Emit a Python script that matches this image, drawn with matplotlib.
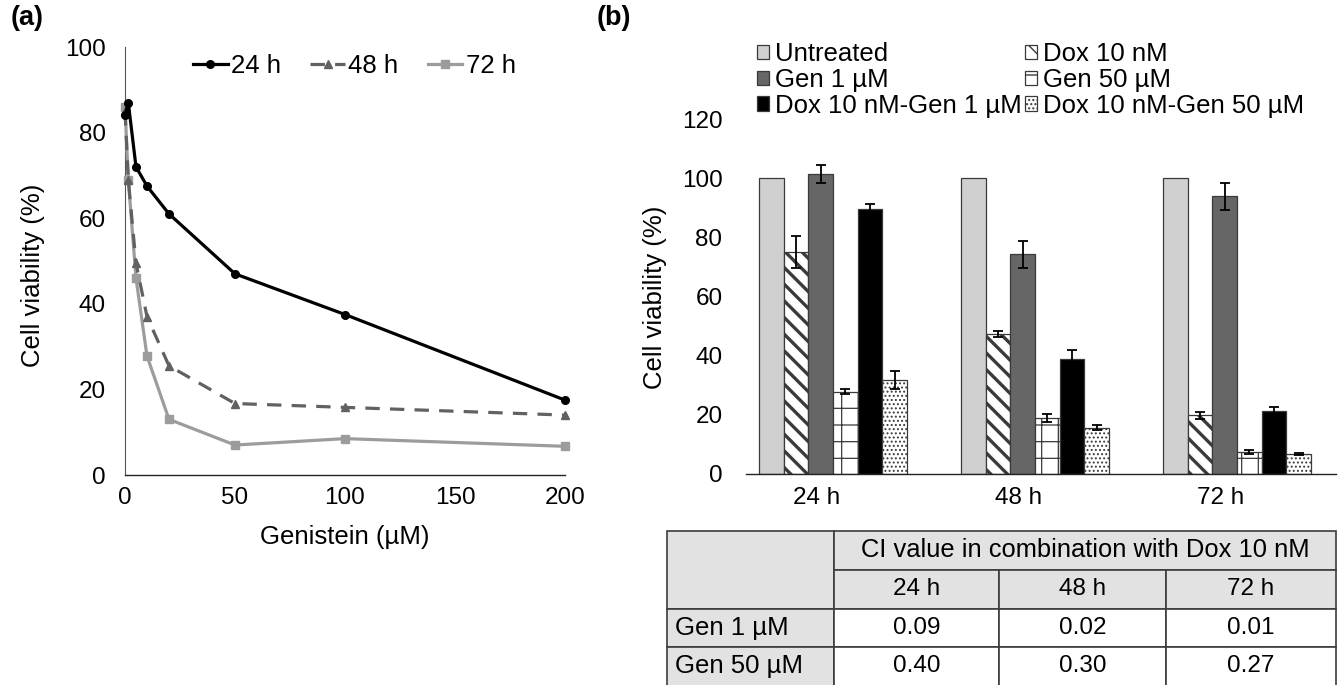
import matplotlib
matplotlib.use('Agg')
import matplotlib.pyplot as plt
import matplotlib.transforms as mtrans
from matplotlib.patches import Rectangle
import numpy as np

plt.rcParams['font.family'] = ['Liberation Sans', 'DejaVu Sans']
plt.rcParams['hatch.color'] = '#000000'
FS = 17.5      # numbers / tick labels
FT = 18.5      # word labels

# ---------------- data: panel (a) ----------------
genistein_conc = [0, 1.5, 5, 10, 20, 50, 100, 200]
viab_24h = [84.0, 87.0, 72.0, 67.5, 61.0, 47.0, 37.5, 17.5]
viab_48h = [85.0, 69.0, 49.5, 37.0, 25.5, 16.7, 15.8, 14.0]
viab_72h = [86.0, 69.0, 46.0, 27.8, 13.0, 7.0, 8.5, 6.7]
line_labels = ['24 h', '48 h', '72 h']

# ---------------- data: panel (b) ----------------
time_groups = ['24 h', '48 h', '72 h']
treatments = ['Untreated', 'Dox 10 nM', 'Gen 1 µM', 'Gen 50 µM',
              'Dox 10 nM-Gen 1 µM', 'Dox 10 nM-Gen 50 µM']
untreated = [100.0, 100.0, 100.0]
dox10 = [75.1, 47.2, 19.8]
gen1 = [101.5, 74.2, 93.9]
gen50 = [27.8, 19.0, 7.5]
dox_gen1 = [89.5, 39.0, 21.2]
dox_gen50 = [31.8, 15.6, 6.7]
err_untreated = [0.0, 0.0, 0.0]
err_dox10 = [5.5, 1.0, 1.2]
err_gen1 = [3.0, 4.4, 4.5]
err_gen50 = [0.8, 1.3, 0.6]
err_dox_gen1 = [1.7, 3.0, 1.3]
err_dox_gen50 = [3.0, 0.8, 0.4]

# ---------------- data: CI table ----------------
ci_title = 'CI value in combination with Dox 10 nM'
ci_cols = ['24 h', '48 h', '72 h']
ci_rows = ['Gen 1 µM', 'Gen 50 µM']
ci_gen1 = ['0.09', '0.02', '0.01']
ci_gen50 = ['0.40', '0.30', '0.27']

# ---------------- figure ----------------
W, H = 1344, 685
fig = plt.figure(figsize=(W / 100, H / 100), dpi=100)


def fx(px):
    return px / W


def fy(py):
    return 1 - py / H


def box(l, t, r, b):
    return [fx(l), fy(b), fx(r) - fx(l), fy(t) - fy(b)]


# ================= panel (a) =================
axA = fig.add_axes(box(125, 47, 565, 475))
l72, = axA.plot(genistein_conc, viab_72h, color='#9c9c9c', lw=2.3, marker='s',
                ms=5.5, clip_on=False, zorder=3)
l48, = axA.plot(genistein_conc, viab_48h, color='#616161', lw=2.3,
                ls=(0, (4.5, 3.2)), marker='^', ms=5.5, clip_on=False, zorder=4)
l24, = axA.plot(genistein_conc, viab_24h, color='black', lw=2.3, marker='o',
                ms=5.5, clip_on=False, zorder=5)
axA.set_xlim(0, 200)
axA.set_ylim(0, 100)
axA.set_xticks([0, 50, 100, 150, 200])
axA.set_yticks([0, 20, 40, 60, 80, 100])
for s in ['top', 'right']:
    axA.spines[s].set_visible(False)
axA.spines['left'].set_color('#555555')
axA.spines['left'].set_linewidth(0.8)
axA.spines['bottom'].set_color('#222222')
axA.spines['bottom'].set_linewidth(1.0)
axA.tick_params(axis='y', length=0, labelsize=FS, pad=14)
axA.tick_params(axis='x', length=0, labelsize=FS, pad=9)
fig.legend([l24, l48, l72], line_labels, loc='upper left',
           bbox_to_anchor=(fx(193), fy(54)), ncol=3, frameon=False,
           fontsize=FT, handlelength=1.35, handletextpad=0.12,
           columnspacing=1.15, borderpad=0, borderaxespad=0, numpoints=1)
fig.text(fx(33), fy(275), 'Cell viability (%)', rotation=90, ha='center',
         va='center', fontsize=FT)
fig.text(fx(345), fy(537), 'Genistein (µM)', ha='center', va='center',
         fontsize=FT)
fig.text(fx(11), fy(18), '(a)', ha='left', va='center', fontsize=19.5,
         fontweight='bold')

# ================= panel (b) =================
gc_px = [833, 1035, 1237]
unit = 202.0
axB = fig.add_axes(box(746, 119, 1336, 474))
x = np.arange(len(time_groups))
bw = 24.6 / unit
values = [untreated, dox10, gen1, gen50, dox_gen1, dox_gen50]
errors = [err_untreated, err_dox10, err_gen1, err_gen50, err_dox_gen1,
          err_dox_gen50]
faces = ['#d0d0d0', 'white', '#666666', 'white', '#000000', 'white']
hatches = [None, '\\\\', None, '+', None, '....']
hlw = [1.0, 2.4, 1.0, 0.9, 1.0, 0.9]
edge = '#3a3a3a'
bars = []
for k, (vals, errs) in enumerate(zip(values, errors)):
    with plt.rc_context({'hatch.linewidth': hlw[k]}):
        yerr = errs if any(e > 0 for e in errs) else None
        b = axB.bar(x + (k - 2.5) * bw, vals, width=bw, color=faces[k],
                    edgecolor=edge, linewidth=0.9, hatch=hatches[k],
                    yerr=yerr,
                    error_kw=dict(ecolor='black', elinewidth=1.3, capsize=3.5,
                                  capthick=1.3),
                    label=treatments[k], zorder=2)
    for p in b.patches:
        if hasattr(p, 'set_hatch_linewidth'):
            p.set_hatch_linewidth(hlw[k])
    bars.append(b)

axB.set_xlim((746 - gc_px[0]) / unit, (1336 - gc_px[0]) / unit)
axB.set_ylim(0, 120)
axB.set_yticks([0, 20, 40, 60, 80, 100, 120])
axB.set_xticks(x)
axB.set_xticklabels(time_groups)
for s in ['top', 'right', 'left']:
    axB.spines[s].set_visible(False)
axB.spines['bottom'].set_color('#222222')
axB.spines['bottom'].set_linewidth(1.0)
axB.tick_params(axis='y', length=0, labelsize=FS, pad=17)
axB.tick_params(axis='x', length=0, labelsize=FS, pad=9)
shift = mtrans.ScaledTranslation(-16 / 100, 0, fig.dpi_scale_trans)
for lab in axB.get_xticklabels():
    lab.set_transform(lab.get_transform() + shift)

col1 = [0, 2, 4]
col2 = [1, 3, 5]
for cols, xp in [(col1, 757), (col2, 1025)]:
    leg = fig.legend([bars[i] for i in cols], [treatments[i] for i in cols],
                     loc='upper left', bbox_to_anchor=(fx(xp), fy(42)),
                     frameon=False, fontsize=FT, handlelength=0.48,
                     handleheight=0.48, handletextpad=0.22, labelspacing=0.07,
                     borderpad=0, borderaxespad=0)
fig.text(fx(655), fy(297), 'Cell viability (%)', rotation=90, ha='center',
         va='center', fontsize=FT)
fig.text(fx(597), fy(18), '(b)', ha='left', va='center', fontsize=19.5,
         fontweight='bold')

# ================= CI table =================
axT = fig.add_axes(box(667, 531, 1338, 685))
axT.set_xlim(667, 1338)
axT.set_ylim(685, 531)
axT.axis('off')
cx = [667, 834, 999, 1166, 1336]
ry = [531, 570, 609, 647, 686]
gray = '#e2e2e2'
line_c = '#3c3c3c'


def cell(x0, x1, y0, y1, fc, text=None, ha='center', fs=FS):
    axT.add_patch(Rectangle((x0, y0), x1 - x0, y1 - y0, facecolor=fc,
                            edgecolor=line_c, linewidth=1.2, clip_on=False))
    if text is not None:
        tx = (x0 + x1) / 2 if ha == 'center' else x0 + 8
        axT.text(tx, (y0 + y1) / 2, text, ha=ha, va='center', fontsize=fs,
                 clip_on=False)


cell(cx[0], cx[1], ry[0], ry[2], gray)
cell(cx[1], cx[4], ry[0], ry[1], gray, ci_title, fs=18.4)
for j, c in enumerate(ci_cols):
    cell(cx[j + 1], cx[j + 2], ry[1], ry[2], gray, c)
for i, (rname, rvals) in enumerate(zip(ci_rows, [ci_gen1, ci_gen50])):
    cell(cx[0], cx[1], ry[i + 2], ry[i + 3], gray, rname, ha='left', fs=FT)
    for j, v in enumerate(rvals):
        cell(cx[j + 1], cx[j + 2], ry[i + 2], ry[i + 3], 'white', v)

fig.savefig('out.png', dpi=100)
